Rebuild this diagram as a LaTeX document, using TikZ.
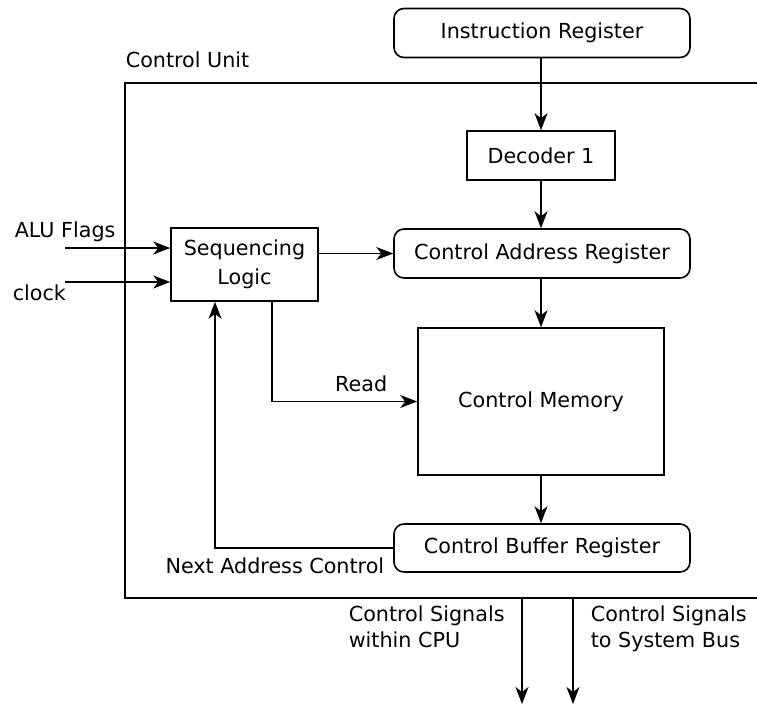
\documentclass[tikz,border=0pt]{standalone}
\usepackage{fontspec}
\setmainfont{DejaVu Sans}
\usetikzlibrary{arrows.meta,positioning,calc}
\begin{document}
\begin{tikzpicture}[x=1pt,y=-1pt,
  font=\fontsize{20.7}{26}\selectfont,
  line width=1.6pt,
  rbox/.style={draw,rounded corners=10pt,minimum width=296pt,minimum height=49pt,inner sep=0pt},
  sbox/.style={draw,inner sep=0pt},
  lbl/.style={inner sep=0pt},
  arr/.style={-{Stealth[length=17pt,width=13pt,inset=5pt]}}
]
\useasboundingbox (0,0) rectangle (757,704);
% control unit frame
\draw (757,83) -- (125,83) -- (125,598) -- (757,598);
\node[lbl,anchor=south west] (cu) at (125,69) {Control Unit};

\node[rbox] (ir) at (542,33) {Instruction Register};
\node[sbox,minimum width=148pt,minimum height=49pt] (dec) at (541,155.5) {Decoder 1};
\node[rbox] (car) at (542,253.5) {Control Address Register};
\node[sbox,minimum width=147pt,minimum height=73pt,align=center] (seq) at (244.5,264.5) {Sequencing\\[3pt]Logic};
\node[sbox,minimum width=246pt,minimum height=147pt] (cm) at (541,401.5) {Control Memory};
\node[rbox,minimum height=48pt] (cbr) at (542,548) {Control Buffer Register};

\draw[arr] (ir.south -| dec) -- (dec);
\draw[arr] (dec) -- (car.north -| dec);
\draw[arr] (car.south -| dec) -- (cm);
\draw[arr] (cm) -- (cbr.north -| cm);
\draw[arr] (seq.east |- car) -- (car.west);

\coordinate (alu) at (65,248);
\coordinate (clk) at (65,282);
\draw[arr] (alu) -- (seq.west |- alu);
\draw[arr] (clk) -- (seq.west |- clk);
\node[lbl,anchor=south west] (alul) at (14,243) {ALU Flags};
\node[lbl,anchor=north west] (clkl) at (12,284) {clock};

\draw[arr] ([xshift=27.5pt]seq.south) |- (cm.west);
\node[lbl,anchor=south east] (rd) at (388,393) {Read};

\draw[arr] (cbr.west) -| ([xshift=-29.5pt]seq.south);
\node[lbl,anchor=east] (nac) at (385,566) {Next Address Control};

\coordinate (o1) at (522,598);
\coordinate (o2) at (573,598);
\coordinate (e1) at (522,704);
\coordinate (e2) at (573,704);
\draw[arr] (o1) -- (e1);
\draw[arr] (o2) -- (e2);
\node[lbl,anchor=north west,align=left] (s1) at (348,605) {Control Signals\\within CPU};
\node[lbl,anchor=north west,align=left] (s2) at (590,605) {Control Signals\\to System Bus};
\end{tikzpicture}
\end{document}
